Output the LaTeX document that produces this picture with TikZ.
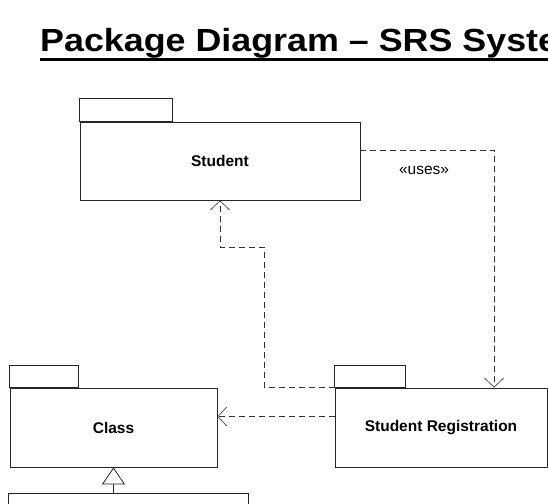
\documentclass[tikz,border=0pt]{standalone}
\usepackage{fontspec}
\setmainfont{Liberation Sans}
\usetikzlibrary{arrows.meta}

\tikzset{
  pkg/.style={draw=black!85, line width=0.8pt, inner sep=0pt,
    font=\bfseries\fontsize{15.5}{18}\selectfont},
  pkgtab/.style={draw=black!85, line width=0.8pt},
  dep/.style={draw=black!80, line width=0.8pt, dash pattern=on 6pt off 4pt,
    -{Straight Barb[length=9pt,width=19pt,line width=0.6pt]}},
  gen/.style={draw=black!85, line width=0.8pt,
    -{Triangle[open,length=17pt,width=23pt,line width=0.8pt,fill=white]}}
}

\begin{document}
\begin{tikzpicture}[x=1pt,y=-1pt]

\path[use as bounding box, clip] (0,0) rectangle (548,503);

% title
\node[anchor=base west, inner sep=0pt, font=\bfseries\fontsize{32}{38}\selectfont]
  (title) at (40,51.5) {\scalebox{1.12}[1]{Package Diagram -- SRS System}};
\draw[line width=3.5pt]
  ([yshift=-8pt]title.base west) -- ([yshift=-8pt]title.base east);

% packages
\node[pkg, minimum width=280pt, minimum height=78pt] (student) at (220,161) {Student};
\draw[pkgtab] (student.north west) rectangle ++(93,-23);

\node[pkg, minimum width=207pt, minimum height=79pt] (class) at (113.5,427.5) {Class};
\draw[pkgtab] (class.north west) rectangle ++(69,-22);

\node[pkg, minimum width=212pt, minimum height=79pt] (reg) at (441,427.5) {Student Registration};
\draw[pkgtab] (reg.north west) rectangle ++(71,-22);

% package below (cut off)
\node[pkg, minimum width=240pt, minimum height=80pt] (sub) at (128,533) {};

% dependencies
\draw[dep] ([yshift=11pt]student.east) -| ([xshift=53pt]reg.north);
\node[font=\fontsize{15.5}{18}\selectfont] (uses) at (424,170) {«uses»};

\coordinate (bend) at (264,247);
\draw[dep] (reg.north west) -| (bend) -| (student.south);

\draw[dep] ([yshift=11pt]reg.west) -- ([yshift=11pt]class.east);

% generalization
\draw[gen] (class.south |- sub.north) -- (class.south);

\end{tikzpicture}
\end{document}
